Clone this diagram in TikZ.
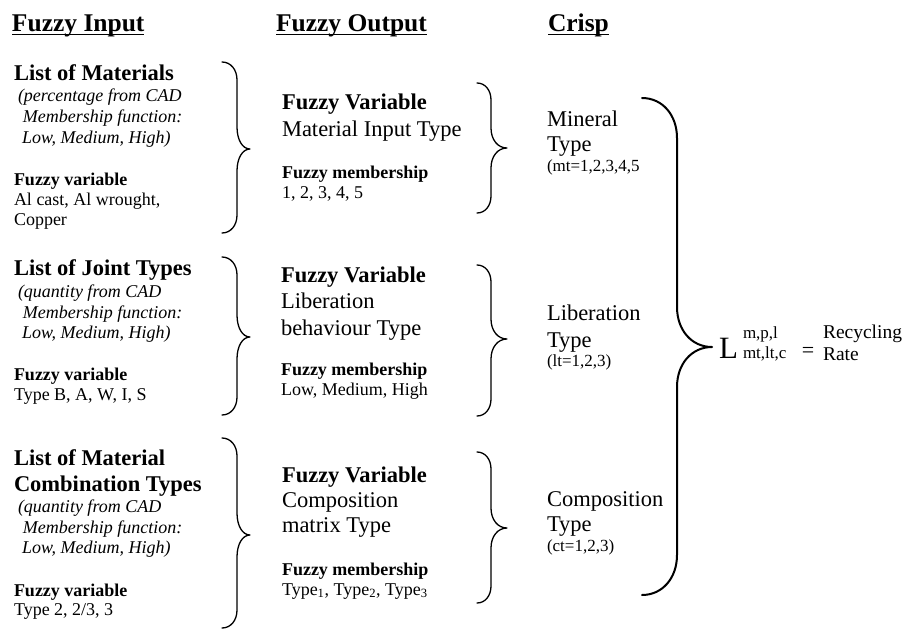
\documentclass[tikz,border=0pt]{standalone}
\usepackage{fontspec}
\setmainfont{Liberation Serif}
% curly right brace: #1 outer x, #2 stem x, #3 tip x, #4 top y, #5 tip y, #6 bottom y,
% #7 curl radius at the ends, #8 curl radius at the tip
\newcommand\curlybrace[8]{%
  \draw[bracestroke] (#1,#4)
    .. controls +({0.58*(#2-#1)},0) and +(0,{-0.58*#7}) .. (#2,#4+#7)
    -- (#2,#5-#8)
    .. controls +(0,{0.58*#8}) and +({-0.58*(#3-#2)},0) .. (#3,#5)
    .. controls +({-0.58*(#3-#2)},0) and +(0,{-0.58*#8}) .. (#2,#5+#8)
    -- (#2,#6-#7)
    .. controls +(0,{0.58*#7}) and +({0.58*(#2-#1)},0) .. (#1,#6);}
\begin{document}
\begin{tikzpicture}[x=1pt,y=-1pt,
  every node/.style={inner sep=0pt,outer sep=0pt,anchor=base west},
  hdr/.style={font=\fontsize{25.5}{30}\selectfont\bfseries},
  ttl/.style={font=\fontsize{22.5}{26}\selectfont\bfseries},
  big/.style={font=\fontsize{22.5}{26}\selectfont},
  itl/.style={font=\fontsize{18}{21}\selectfont\itshape},
  sbf/.style={font=\fontsize{18}{21}\selectfont\bfseries},
  sml/.style={font=\fontsize{18}{21}\selectfont},
  tny/.style={font=\fontsize{17}{20}\selectfont},
  bracestroke/.style={line width=1.3pt,line cap=round,line join=round},
  ul/.style={line width=1.3pt}]
\useasboundingbox (0,0) rectangle (905,630);

% column headings
\node[hdr] (hIn)  at (12,31)  {Fuzzy Input};
\node[hdr] (hOut) at (276,31) {Fuzzy Output};
\node[hdr] (hCr)  at (548,31) {Crisp};
\foreach \h in {hIn,hOut,hCr}
  \draw[ul] ([yshift=-3.5pt]\h.base west) -- ([yshift=-3.5pt]\h.base east);

% fuzzy input: materials
\node[ttl] (in1a) at (14,80)  {List of Materials};
\node[itl] (in1b) at (18,101) {(percentage from CAD};
\node[itl] (in1c) at (23,122) {Membership function:};
\node[itl] (in1d) at (22,143) {Low, Medium, High)};
\node[sbf] (in1e) at (14,185) {Fuzzy variable};
\node[sml] (in1f) at (14,205) {Al cast, Al wrought,};
\node[sml] (in1g) at (14,225) {Copper};

% fuzzy input: joints
\node[ttl] (in2a) at (14,275) {List of Joint Types};
\node[itl] (in2b) at (18,297) {(quantity from CAD};
\node[itl] (in2c) at (23,318) {Membership function:};
\node[itl] (in2d) at (22,338) {Low, Medium, High)};
\node[sbf] (in2e) at (14,380) {Fuzzy variable};
\node[sml] (in2f) at (14,400) {Type B, A, W, I, S};

% fuzzy input: material combinations
\node[ttl] (in3a) at (14,465) {List of Material};
\node[ttl] (in3b) at (14,491) {Combination Types};
\node[itl] (in3c) at (18,512) {(quantity from CAD};
\node[itl] (in3d) at (23,533) {Membership function:};
\node[itl] (in3e) at (22,553) {Low, Medium, High)};
\node[sbf] (in3f) at (14,596) {Fuzzy variable};
\node[sml] (in3g) at (14,615) {Type 2, 2/3, 3};

% fuzzy output column
\node[ttl] (out1a) at (282,109) {Fuzzy Variable};
\node[big] (out1b) at (282,136) {Material Input Type};
\node[sbf] (out1c) at (282,178) {Fuzzy membership};
\node[sml] (out1d) at (282,198) {1, 2, 3, 4, 5};

\node[ttl] (out2a) at (281,282) {Fuzzy Variable};
\node[big] (out2b) at (281,308) {Liberation};
\node[big] (out2c) at (281,335) {behaviour Type};
\node[sbf] (out2d) at (281,375) {Fuzzy membership};
\node[sml] (out2e) at (281,395) {Low, Medium, High};

\node[ttl] (out3a) at (282,482) {Fuzzy Variable};
\node[big] (out3b) at (282,507) {Composition};
\node[big] (out3c) at (282,532) {matrix Type};
\node[sbf] (out3d) at (282,575) {Fuzzy membership};
\node[sml] (out3e) at (282,595) {Type\textsubscript{1}, Type\textsubscript{2}, Type\textsubscript{3}};

% crisp column
\node[big] (cr1a) at (547,126) {Mineral};
\node[big] (cr1b) at (547,151) {Type};
\node[tny] (cr1c) at (547,171) {(mt=1,2,3,4,5};

\node[big] (cr2a) at (547,320) {Liberation};
\node[big] (cr2b) at (547,347) {Type};
\node[tny] (cr2c) at (547,366) {(lt=1,2,3)};

\node[big] (cr3a) at (547,506) {Composition};
\node[big] (cr3b) at (547,531) {Type};
\node[tny] (cr3c) at (547,551) {(ct=1,2,3)};

% recycling rate expression
\node[font=\fontsize{31}{35}\selectfont] (L) at (719,358) {L};
\node[font=\fontsize{17}{20}\selectfont] (Lsup) at (743,338) {m,p,l};
\node[font=\fontsize{17}{20}\selectfont] (Lsub) at (743,358) {mt,lt,c};
\node[font=\fontsize{22}{26}\selectfont,anchor=center] (eq) at (808,352) {=};
\node[font=\fontsize{19.5}{23}\selectfont] (rr1) at (823,338) {Recycling};
\node[font=\fontsize{19.5}{23}\selectfont] (rr2) at (823,360) {Rate};

% braces from input to output
\curlybrace{222}{237}{250}{62}{149}{233}{18}{22}
\curlybrace{222}{237}{250}{257}{337}{415}{18}{22}
\curlybrace{222}{237}{250}{438}{535}{628}{18}{22}
% braces from output to crisp
\curlybrace{477}{491}{507}{83}{148}{213}{17}{20}
\curlybrace{477}{491}{507}{265}{339}{416}{17}{20}
\curlybrace{477}{491}{507}{452}{528}{603}{17}{20}
% brace gathering the crisp values
\begin{scope}[bracestroke/.append style={line width=2pt}]
\curlybrace{642}{677}{712}{98}{347}{595}{40}{40}
\end{scope}
\end{tikzpicture}
\end{document}
